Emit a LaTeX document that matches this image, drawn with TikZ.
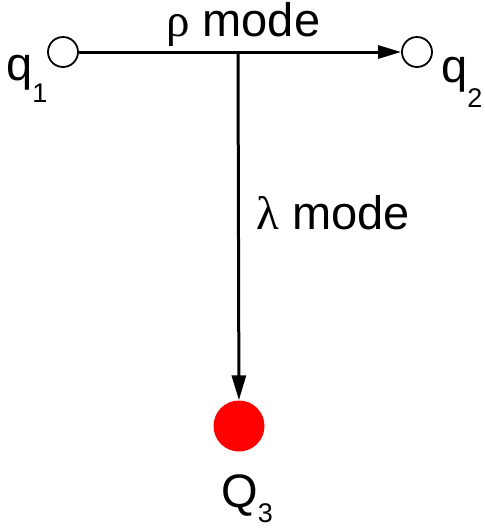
\documentclass[tikz,border=0pt]{standalone}
\usepackage{fontspec}
\setmainfont{Liberation Sans}
\newfontfamily\greekfont{Liberation Serif}
\usetikzlibrary{arrows.meta}
\tikzset{
  lbl/.style={font=\fontsize{47}{47}\selectfont, inner sep=0pt, anchor=base west},
  open/.style={circle, draw=black, line width=1.8pt, fill=white, minimum size=30pt, inner sep=0pt},
  heavy/.style={circle, fill=red, minimum size=51pt, inner sep=0pt},
  conn/.style={line width=3pt, -{Triangle[length=23pt,width=13pt]}}
}
\newcommand{\subs}[2]{\raisebox{-#2pt}{\fontsize{27}{27}\selectfont #1}}
\begin{document}
\begin{tikzpicture}[x=1pt,y=-1pt]
\useasboundingbox (0,0) rectangle (485,531);
\node[open] (q1) at (63,52) {};
\node[open] (q2) at (417,52) {};
\node[heavy] (Q3) at (239,426) {};
\coordinate (j) at (238,52);
\draw[conn] (q1) -- (q2);
\draw[line width=3pt, -{Triangle[length=25pt,width=14pt]}] (j) -- (Q3);
\node[lbl] (rho) at (166,36) {{\greekfont ρ} mode};
\node[lbl] (lam) at (256,229) {{\greekfont λ} mode};
\node[lbl] (l1) at (6,80) {q\subs{1}{22}};
\node[lbl] (l2) at (441,82) {q\subs{2}{25}};
\node[lbl] (l3) at (221,507) {Q\subs{3}{15}};
\end{tikzpicture}
\end{document}
